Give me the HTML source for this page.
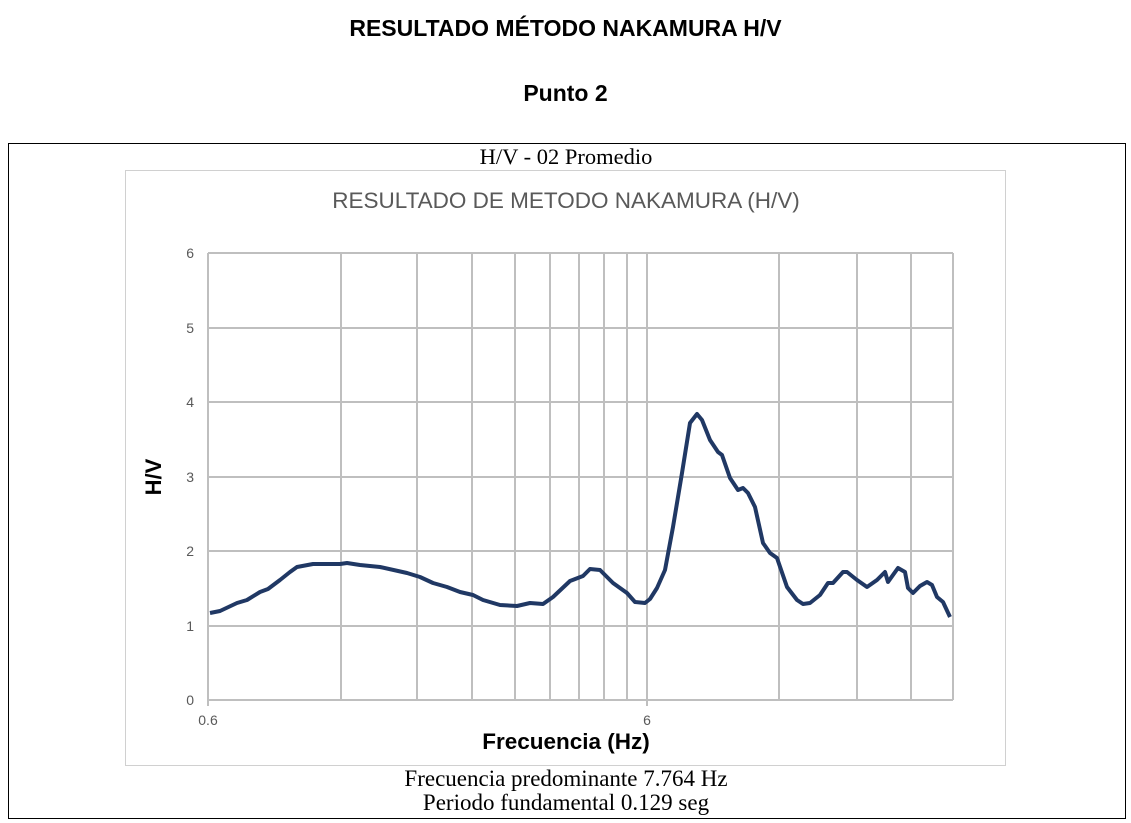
<!DOCTYPE html>
<html><head><meta charset="utf-8"><style>
body{margin:0;background:#fff;width:1131px;height:823px;overflow:hidden;position:relative;font-family:"Liberation Sans",sans-serif}
.t{position:absolute;left:0;width:1131px;text-align:center;font-weight:bold;font-size:23px;color:#000}
</style></head><body>
<div class="t" style="top:15px">RESULTADO MÉTODO NAKAMURA H/V</div>
<div class="t" style="top:80px">Punto 2</div>
<svg width="1131" height="823" style="position:absolute;left:0;top:0">
<rect x="8.5" y="143.5" width="1117" height="675" fill="none" stroke="#000" stroke-width="1"/>
<text x="566" y="164" text-anchor="middle" font-family="Liberation Serif" font-size="22.5">H/V - 02 Promedio</text>
<rect x="125.5" y="170.5" width="880" height="595" fill="none" stroke="#d0d0d0"/>
<text x="566" y="208" text-anchor="middle" font-family="Liberation Sans" font-size="22.5" fill="#595959">RESULTADO DE METODO NAKAMURA (H/V)</text>
<g stroke="#bfbfbf" stroke-width="2">
<line x1="208" y1="253" x2="953" y2="253"/><line x1="208" y1="328" x2="953" y2="328"/><line x1="208" y1="402" x2="953" y2="402"/><line x1="208" y1="477" x2="953" y2="477"/><line x1="208" y1="551" x2="953" y2="551"/><line x1="208" y1="626" x2="953" y2="626"/><line x1="208" y1="700" x2="953" y2="700"/>
<line x1="208" y1="253" x2="208" y2="706"/><line x1="341" y1="253" x2="341" y2="700"/><line x1="417" y1="253" x2="417" y2="700"/><line x1="472" y1="253" x2="472" y2="700"/><line x1="515" y1="253" x2="515" y2="700"/><line x1="550" y1="253" x2="550" y2="700"/><line x1="579" y1="253" x2="579" y2="700"/><line x1="604" y1="253" x2="604" y2="700"/><line x1="627" y1="253" x2="627" y2="700"/><line x1="647" y1="253" x2="647" y2="706"/><line x1="779" y1="253" x2="779" y2="700"/><line x1="857" y1="253" x2="857" y2="700"/><line x1="911" y1="253" x2="911" y2="700"/><line x1="953" y1="253" x2="953" y2="700"/>
</g>
<g font-family="Liberation Sans" font-size="14" fill="#595959" text-anchor="end">
<text x="194" y="258">6</text><text x="194" y="333">5</text><text x="194" y="407">4</text><text x="194" y="482">3</text><text x="194" y="556">2</text><text x="194" y="631">1</text><text x="194" y="705">0</text>
</g>
<g font-family="Liberation Sans" font-size="14" fill="#595959" text-anchor="middle">
<text x="208" y="725">0.6</text><text x="647" y="725">6</text>
</g>
<text x="566" y="749" text-anchor="middle" font-family="Liberation Sans" font-weight="bold" font-size="22.5">Frecuencia (Hz)</text>
<text transform="translate(161,477) rotate(-90)" text-anchor="middle" font-family="Liberation Sans" font-weight="bold" font-size="22">H/V</text>
<polyline fill="none" stroke="#203864" stroke-width="4" stroke-linejoin="round" points="210,613 220,611 237,603 247,600 260,592 268,589 280,580 290,572 297,567 313,564 340,564 347,563 360,565 380,567 407,573 420,577 433,583 447,587 460,592 473,595 483,600 500,605 517,606 530,603 543,604 553,597 570,581 583,576 590,569 600,570 613,583 627,593 635,602 645,603 650,599 657,588 665,570 673,527 682,473 690,423 697,414 702,420 710,440 718,452 722,455 730,478 738,490 743,488 748,493 755,507 763,543 770,553 777,558 787,587 797,600 803,604 810,603 820,595 828,583 833,583 843,572 847,572 857,580 867,587 877,580 885,572 888,582 898,568 905,572 908,588 913,593 920,586 927,582 932,585 937,597 943,602 950,617"/>
<text x="566" y="786" text-anchor="middle" font-family="Liberation Serif" font-size="23">Frecuencia predominante 7.764 Hz</text>
<text x="566" y="810" text-anchor="middle" font-family="Liberation Serif" font-size="23">Periodo fundamental 0.129 seg</text>
</svg>
</body></html>
